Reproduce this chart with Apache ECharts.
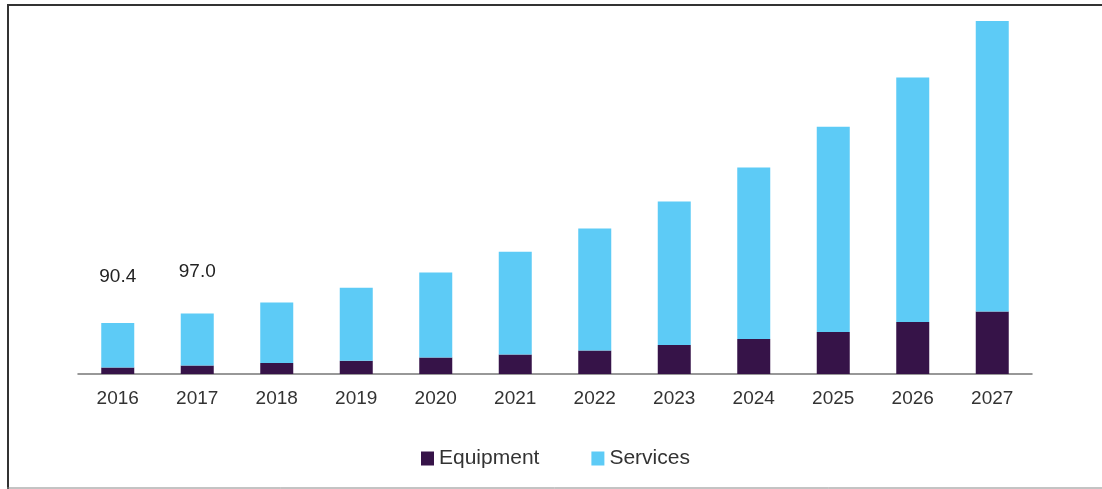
<!DOCTYPE html>
<html>
<head>
<meta charset="utf-8">
<script src="https://cdn.jsdelivr.net/npm/echarts@6/dist/echarts.min.js"></script>
<style>
html,body{margin:0;padding:0;background:#fff;}
#chart{width:1102px;height:489px;}
</style>
</head>
<body>
<div id="chart"></div>
<script>
const years = ['2016','2017','2018','2019','2020','2021','2022','2023','2024','2025','2026','2027'];
const equipment = [11.7, 15.2, 19.5, 23.6, 29.4, 34.7, 41.8, 51.4, 62.0, 74.4, 92.2, 111.0];
const services = [78.7, 92.2, 107.4, 129.4, 150.7, 182.1, 216.3, 254.5, 304.2, 363.9, 433.5, 514.7];
const totalLabels = ['90.4', '97.0', '', '', '', '', '', '', '', '', '', ''];
const labelDistance = [37, 32];

const chart = echarts.init(document.getElementById('chart'), null, {renderer: 'canvas'});
const font = 'Liberation Sans, Arial, sans-serif';

chart.setOption({
  animation: false,
  backgroundColor: '#ffffff',
  graphic: [
    {type: 'line', shape: {x1: 7, y1: 5, x2: 1102, y2: 5}, style: {stroke: '#333', lineWidth: 2}},
    {type: 'line', shape: {x1: 8, y1: 4, x2: 8, y2: 489}, style: {stroke: '#333', lineWidth: 2}},
    {type: 'line', shape: {x1: 7, y1: 488, x2: 1102, y2: 488}, style: {stroke: '#888', lineWidth: 1}}
  ],
  grid: {left: 78, right: 70, top: 20, bottom: 115, containLabel: false},
  legend: {
    left: 421, top: 448, padding: 0,
    itemWidth: 13, itemHeight: 14, itemGap: 52,
    icon: 'rect',
    textStyle: {fontFamily: font, fontSize: 21, color: '#333'},
    data: ['Equipment', 'Services']
  },
  xAxis: {
    type: 'category',
    data: years,
    axisLine: {lineStyle: {color: '#777', width: 1.5}},
    axisTick: {show: false},
    axisLabel: {fontFamily: font, fontSize: 19, color: '#333', margin: 15}
  },
  yAxis: {
    type: 'value', min: 0, max: 627.5,
    show: false,
    splitLine: {show: false}
  },
  series: [
    {
      name: 'Equipment', type: 'bar', stack: 'total', barWidth: 33,
      itemStyle: {color: '#361348'},
      data: equipment
    },
    {
      name: 'Services', type: 'bar', stack: 'total', barWidth: 33,
      itemStyle: {color: '#5dcbf6'},
      data: services.map((v, i) => totalLabels[i] ? {
        value: v,
        label: {show: true, position: 'top', distance: labelDistance[i], formatter: totalLabels[i],
          fontFamily: font, fontSize: 19, color: '#222'}
      } : v)
    }
  ]
});
</script>
</body>
</html>
